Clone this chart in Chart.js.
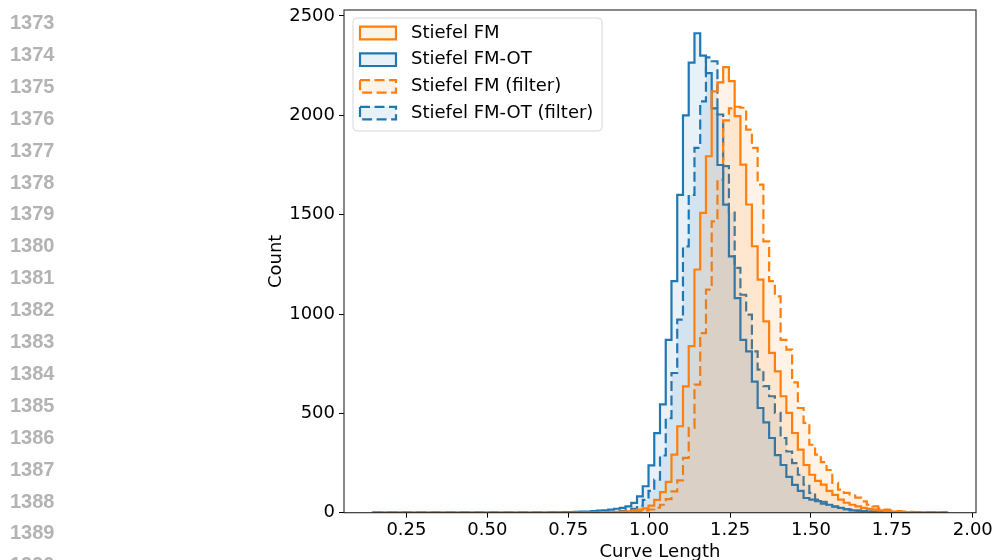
<!DOCTYPE html>
<html>
<head>
<meta charset="utf-8">
<script src="https://cdn.jsdelivr.net/npm/chart.js@4.4.1/dist/chart.umd.min.js"></script>
<style>
  html, body { margin: 0; padding: 0; background: #fff; overflow: hidden; }
  #wrap { position: relative; width: 994px; height: 560px; }
  #c { position: absolute; left: 0; top: 0; }
  .ln { position: absolute; left: 10px; font: bold 20px "Liberation Sans", Arial, sans-serif; color: #b3b3b3; line-height: 20px; }
</style>
</head>
<body>
<div id="wrap"><canvas id="c" width="994" height="560"></canvas></div>
<script>
// histogram bins (shared by all four series)
const binStart = 0.146;
const binWidth = 0.01775;

// counts per bin
const fm = [
  0, 0, 0, 0, 0, 0, 0, 0, 0, 0,
  0, 0, 0, 0, 0, 0, 0, 0, 0, 0,
  0, 0, 0, 0, 0, 0, 0, 0, 0, 0,
  0, 0, 0, 0, 0, 1, 1, 1, 1, 1,
  2, 3, 4, 5, 7, 10, 15, 22, 36, 65,
  104, 155, 292, 435, 636, 838, 1224, 1509, 1794, 2120,
  2166, 2242, 2172, 1996, 1752, 1551, 1341, 1173, 963, 804,
  711, 586, 502, 401, 317, 240, 191, 160, 141, 110,
  90, 66, 50, 40, 32, 24, 19, 15, 12, 8,
  6, 4, 3, 2, 1, 0, 0, 0, 0, 0
];
const fmOt = [
  1, 0, 0, 0, 0, 0, 0, 0, 0, 0,
  0, 0, 0, 0, 0, 0, 0, 0, 0, 0,
  0, 0, 0, 0, 1, 0, 1, 1, 1, 1,
  1, 2, 2, 3, 3, 4, 5, 6, 8, 10,
  12, 15, 20, 24, 32, 49, 82, 133, 238, 400,
  545, 870, 1165, 1600, 2000, 2265, 2413, 2300, 2212, 2035,
  1750, 1550, 1290, 1080, 870, 812, 660, 527, 455, 376,
  290, 240, 180, 140, 110, 74, 66, 58, 46, 40,
  30, 24, 18, 12, 10, 8, 6, 4, 3, 2,
  2, 1, 1, 0, 0, 0, 0, 0, 0, 1
];
const fmFilter = [
  0, 0, 0, 0, 0, 0, 0, 0, 0, 0,
  0, 0, 0, 0, 0, 0, 0, 0, 0, 0,
  0, 0, 0, 0, 0, 0, 0, 0, 0, 0,
  0, 0, 0, 0, 0, 0, 0, 0, 0, 0,
  0, 0, 1, 2, 3, 5, 7, 11, 16, 26,
  40, 68, 107, 163, 276, 427, 645, 904, 1123, 1466,
  1676, 1975, 2035, 2043, 2038, 1928, 1836, 1651, 1366, 1165,
  1089, 870, 821, 656, 527, 452, 342, 292, 255, 215,
  150, 116, 100, 86, 76, 57, 40, 32, 22, 15,
  10, 8, 6, 4, 3, 2, 1, 0, 0, 0
];
const fmOtFilter = [
  0, 0, 0, 0, 0, 0, 0, 0, 0, 0,
  0, 0, 0, 0, 0, 0, 0, 0, 0, 0,
  0, 0, 0, 0, 0, 0, 0, 0, 0, 0,
  0, 0, 0, 0, 1, 1, 1, 1, 1, 2,
  2, 3, 5, 8, 12, 20, 35, 65, 110, 166,
  288, 476, 703, 972, 1340, 1600, 1836, 2070, 2292, 2272,
  2004, 1744, 1510, 1232, 1097, 997, 812, 720, 637, 586,
  502, 376, 308, 249, 191, 141, 100, 66, 55, 40,
  32, 24, 18, 15, 10, 8, 5, 4, 3, 2,
  1, 0, 0, 0, 0, 0, 0, 0, 0, 0
];

const seriesLabels = ["Stiefel FM", "Stiefel FM-OT", "Stiefel FM (filter)", "Stiefel FM-OT (filter)"];
const xTicks = [0.25, 0.5, 0.75, 1.0, 1.25, 1.5, 1.75, 2.0];
const yTicks = [0, 500, 1000, 1500, 2000, 2500];
const lineNumbers = [1373, 1374, 1375, 1376, 1377, 1378, 1379, 1380, 1381,
  1382, 1383, 1384, 1385, 1386, 1387, 1388, 1389, 1390];

const ORANGE = "#ff7f0e";
const BLUE = "#1f77b4";

// page line numbers in the margin
const wrap = document.getElementById("wrap");
lineNumbers.forEach((n, i) => {
  const d = document.createElement("div");
  d.className = "ln";
  d.textContent = n;
  d.style.top = (12 + i * 31.9) + "px";
  wrap.appendChild(d);
});

// turn bin counts into a closed step outline
function steps(counts) {
  const end = binStart + counts.length * binWidth;
  const pts = [{ x: binStart, y: 0 }];
  counts.forEach((c, i) => pts.push({ x: binStart + i * binWidth, y: c }));
  pts.push({ x: end, y: counts[counts.length - 1] }, { x: end, y: 0 });
  return pts;
}

function histSet(label, counts, color, fillColor, dashed) {
  return {
    label,
    data: steps(counts),
    borderColor: color,
    backgroundColor: fillColor,
    borderWidth: 2.2,
    borderDash: dashed ? [10, 4.5] : [],
    borderJoinStyle: "miter",
    fill: "origin",
    stepped: true,
    pointRadius: 0,
    tension: 0
  };
}

// axes frame + matplotlib style legend box
const frameAndLegend = {
  id: "frameAndLegend",
  afterDraw(chart) {
    const { ctx, chartArea: a } = chart;
    ctx.save();
    ctx.strokeStyle = "#262626";
    ctx.lineWidth = 1.1;
    ctx.strokeRect(a.left, a.top, a.right - a.left, a.bottom - a.top);

    const bx = a.left + 9, by = a.top + 8, bw = 249, bh = 113;
    ctx.beginPath();
    if (ctx.roundRect) ctx.roundRect(bx, by, bw, bh, 4);
    else ctx.rect(bx, by, bw, bh);
    ctx.fillStyle = "rgba(255,255,255,0.8)";
    ctx.fill();
    ctx.strokeStyle = "#d6d6d6";
    ctx.lineWidth = 1;
    ctx.stroke();

    ctx.font = '18px "DejaVu Sans"';
    ctx.textBaseline = "middle";
    chart.data.datasets.forEach((ds, i) => {
      const cy = by + 15 + i * 26.7;
      ctx.beginPath();
      ctx.rect(bx + 7, cy - 6.3, 36, 12.6);
      ctx.fillStyle = ds.backgroundColor;
      ctx.fill();
      ctx.setLineDash(ds.borderDash);
      ctx.strokeStyle = ds.borderColor;
      ctx.lineWidth = 2.2;
      ctx.stroke();
      ctx.setLineDash([]);
      ctx.fillStyle = "#000";
      ctx.fillText(ds.label, bx + 58, cy);
    });
    ctx.restore();
  }
};

Chart.defaults.font.family = '"DejaVu Sans", sans-serif';
Chart.defaults.font.size = 18;
Chart.defaults.color = "#000";

new Chart(document.getElementById("c"), {
  type: "line",
  data: {
    datasets: [
      histSet(seriesLabels[0], fm, ORANGE, "rgba(255,127,14,0.1)", false),
      histSet(seriesLabels[1], fmOt, BLUE, "rgba(31,119,180,0.1)", false),
      histSet(seriesLabels[2], fmFilter, ORANGE, "rgba(255,127,14,0.1)", true),
      histSet(seriesLabels[3], fmOtFilter, BLUE, "rgba(31,119,180,0.1)", true)
    ]
  },
  options: {
    responsive: false,
    animation: false,
    devicePixelRatio: 1,
    layout: { padding: { left: 260, right: 18, top: 10, bottom: 0 } },
    plugins: { legend: { display: false }, tooltip: { enabled: false } },
    scales: {
      x: {
        type: "linear",
        min: 0.057,
        max: 2.01,
        afterBuildTicks: s => { s.ticks = xTicks.map(value => ({ value })); },
        ticks: {
          maxRotation: 0,
          autoSkip: false,
          padding: 2,
          callback: v => v.toFixed(2)
        },
        grid: { drawOnChartArea: false, tickLength: 5, color: "#000" },
        border: { display: false },
        title: { display: true, text: "Curve Length", padding: { top: 0, bottom: -3 } },
        afterFit: s => { s.height = 47.3; s.paddingLeft = 0; s.paddingRight = 0; }
      },
      y: {
        min: 0,
        max: 2530,
        afterBuildTicks: s => { s.ticks = yTicks.map(value => ({ value })); },
        ticks: {
          autoSkip: false,
          padding: 4,
          callback: v => String(v)
        },
        grid: { drawOnChartArea: false, tickLength: 5, color: "#000" },
        border: { display: false },
        title: { display: true, text: "Count", padding: { top: 6, bottom: 0 } },
        afterFit: s => { s.width = 84; s.paddingTop = 0; s.paddingBottom = 0; }
      }
    }
  },
  plugins: [frameAndLegend]
});
</script>
</body>
</html>
